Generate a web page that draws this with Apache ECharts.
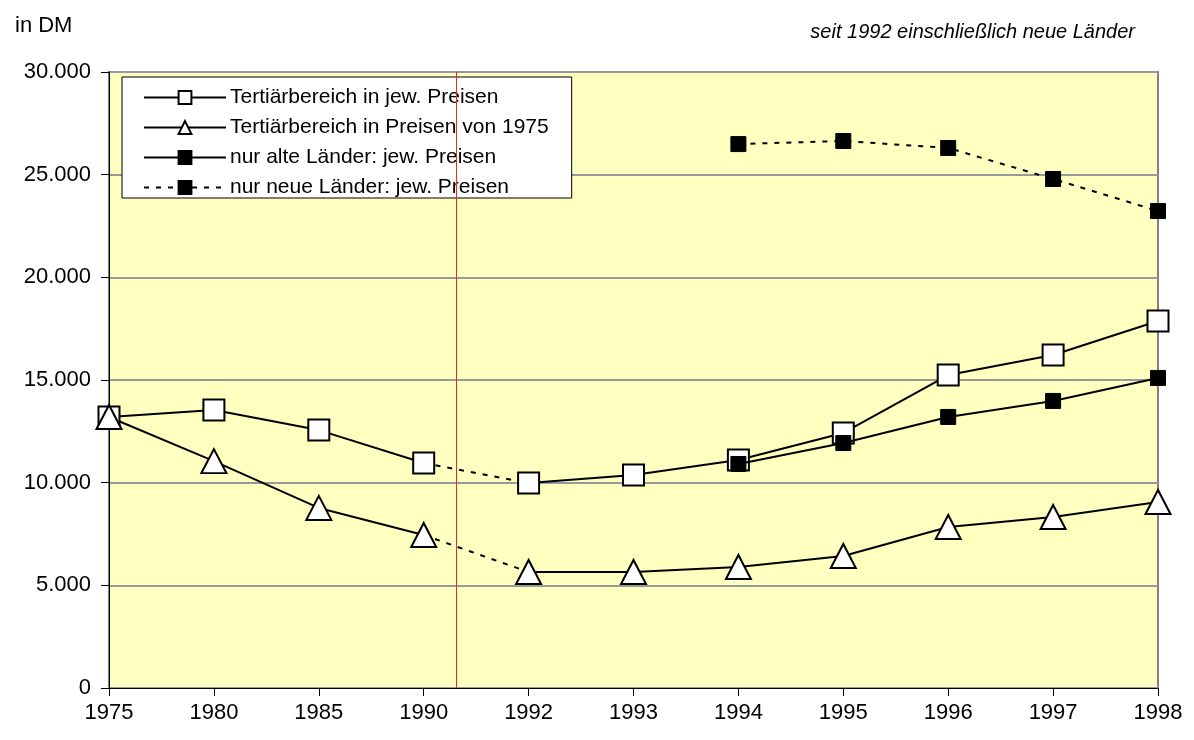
<!DOCTYPE html>
<html>
<head>
<meta charset="utf-8">
<script src="https://cdn.jsdelivr.net/npm/echarts@6/dist/echarts.min.js"></script>
<style>
html,body{margin:0;padding:0;background:#fff;}
#c{width:1194px;height:740px;}
</style>
</head>
<body>
<div id="c"></div>
<script>
const categories = ['1975','1980','1985','1990','1992','1993','1994','1995','1996','1997','1998'];
const tertJew   = [13200, 13540, 12560, 10960, 9980, 10370, 11100, 12420, 15240, 16220, 17870];
const tert1975  = [13200, 11050, 8770, 7450, 5650, 5650, 5890, 6430, 7840, 8330, 9060];
const alteLaender = [null, null, null, null, null, null, 10910, 11930, 13200, 13980, 15100];
const neueLaender = [null, null, null, null, null, null, 26490, 26640, 26300, 24790, 23230];
const yTicks = [0, 5000, 10000, 15000, 20000, 25000, 30000];
const breakPos = 3.31; // red separator between 1990 and 1992

function pairs(arr, from, to) {
  const out = [];
  arr.forEach((v, i) => {
    if (v !== null && i >= from && i <= to) out.push([i, v]);
  });
  return out;
}
const fmt = v => String(v).replace(/\B(?=(\d{3})+(?!\d))/g, '.');

const chart = echarts.init(document.getElementById('c'));
const black = '#000';
const solid = {color: black, width: 2, type: 'solid'};
const dotted = {color: black, width: 2, type: [5, 7]};

chart.setOption({
  animation: false,
  textStyle: {fontFamily: 'Liberation Sans, Arial, sans-serif'},
  title: [
    {text: 'in DM', left: 10, top: 10, textStyle: {fontSize: 22, fontWeight: 'normal', color: '#000'}},
    {text: 'seit 1992 einschließlich neue Länder', right: 54, top: 17,
     textStyle: {fontSize: 20, fontWeight: 'normal', fontStyle: 'italic', color: '#000'}}
  ],
  grid: {left: 109, right: 36, top: 72, bottom: 52, show: true,
         backgroundColor: '#FFFFC0', borderColor: '#808080', borderWidth: 2},
  legend: {
    orient: 'vertical', left: 122, top: 77,
    padding: [10, 23, 0, 21],
    backgroundColor: '#fff', borderColor: '#000', borderWidth: 1,
    itemWidth: 82, itemHeight: 16, itemGap: 9,
    textStyle: {fontSize: 21, color: '#000', padding: [0, 0, 0, -1]},
    data: ['Tertiärbereich in jew. Preisen', 'Tertiärbereich in Preisen von 1975',
           'nur alte Länder: jew. Preisen', 'nur neue Länder: jew. Preisen']
  },
  xAxis: {
    type: 'value', min: 0, max: 10, interval: 1,
    axisLine: {lineStyle: {color: black, width: 1}},
    axisTick: {length: 8, lineStyle: {color: black}},
    splitLine: {show: false},
    axisLabel: {fontSize: 22, color: '#000', margin: 14, formatter: v => categories[v]}
  },
  yAxis: {
    type: 'value', min: 0, max: 30000, interval: 5000,
    axisLine: {show: true, lineStyle: {color: black, width: 1}},
    axisTick: {show: true, length: 8, lineStyle: {color: black}},
    splitLine: {lineStyle: {color: '#999', width: 2}},
    axisLabel: {fontSize: 22, color: '#000', margin: 18,
      formatter: v => yTicks.includes(v) ? fmt(v) : ''}
  },
  series: [
    {name: 'Tertiärbereich in jew. Preisen', type: 'line', z: 5,
     data: pairs(tertJew, 0, 3), symbol: 'rect', symbolSize: 21,
     itemStyle: {color: '#fff', borderColor: black, borderWidth: 2}, lineStyle: solid,
     markLine: {silent: true, symbol: 'none', label: {show: false},
       lineStyle: {color: '#ff2020', width: 1, type: 'solid'}, data: [{xAxis: breakPos}]}},
    {name: 'Tertiärbereich in jew. Preisen', type: 'line', z: 5,
     data: pairs(tertJew, 4, 10), symbol: 'rect', symbolSize: 21,
     itemStyle: {color: '#fff', borderColor: black, borderWidth: 2}, lineStyle: solid},
    {name: 'Tertiärbereich in jew. Preisen gap', type: 'line', z: 3,
     data: pairs(tertJew, 3, 4), showSymbol: false, symbol: 'none', lineStyle: dotted},
    {name: 'Tertiärbereich in Preisen von 1975', type: 'line', z: 5,
     data: pairs(tert1975, 0, 3), symbol: 'triangle', symbolSize: [25, 24],
     itemStyle: {color: '#fff', borderColor: black, borderWidth: 2}, lineStyle: solid},
    {name: 'Tertiärbereich in Preisen von 1975', type: 'line', z: 5,
     data: pairs(tert1975, 4, 10), symbol: 'triangle', symbolSize: [25, 24],
     itemStyle: {color: '#fff', borderColor: black, borderWidth: 2}, lineStyle: solid},
    {name: 'Tertiärbereich in Preisen von 1975 gap', type: 'line', z: 3,
     data: pairs(tert1975, 3, 4), showSymbol: false, symbol: 'none', lineStyle: dotted},
    {name: 'nur alte Länder: jew. Preisen', type: 'line', z: 6,
     data: pairs(alteLaender, 0, 10), symbol: 'rect', symbolSize: 15,
     itemStyle: {color: black, borderColor: black, borderWidth: 1}, lineStyle: solid},
    {name: 'nur neue Länder: jew. Preisen', type: 'line', z: 6,
     data: pairs(neueLaender, 0, 10), symbol: 'rect', symbolSize: 15,
     itemStyle: {color: black, borderColor: black, borderWidth: 1}, lineStyle: dotted}
  ]
});
</script>
</body>
</html>
